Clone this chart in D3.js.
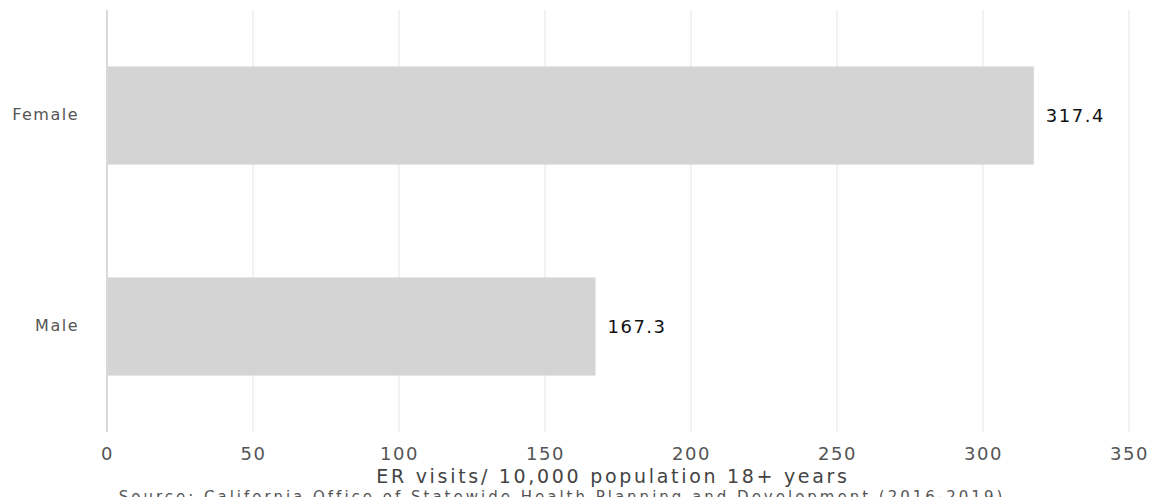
<!DOCTYPE html>
<html><head><meta charset="utf-8">
<script src="https://cdn.jsdelivr.net/npm/d3@7"></script>
<style>body{margin:0;background:#fff;overflow:hidden}svg{display:block}text{font-family:"DejaVu Sans",sans-serif}</style>
</head><body><svg id="c" width="1155" height="497"></svg>
<script>
const categories = ["Female", "Male"];
const values = [317.4, 167.3];
const tickValues = [0, 50, 100, 150, 200, 250, 300, 350];
const axisTitle = "ER visits/ 10,000 population 18+ years";
const sourceText = "Source: California Office of Statewide Health Planning and Development (2016-2019)";

const svg = d3.select("#c");
const x = d3.scaleLinear().domain([0, 350]).range([107, 1129]);
const y = d3.scaleBand().domain(categories).range([10, 432]).paddingInner(0.535).paddingOuter(0.2675);

// grid
svg.append("g").selectAll("line").data(tickValues.slice(1)).join("line")
  .attr("x1", d => x(d)).attr("x2", d => x(d)).attr("y1", 10).attr("y2", 432)
  .attr("stroke", "#eeeeee").attr("stroke-width", 1.5);
// axis line
svg.append("line").attr("x1", x(0)).attr("x2", x(0)).attr("y1", 10).attr("y2", 432)
  .attr("stroke", "#cccccc").attr("stroke-width", 1.5);

// bars
svg.append("g").selectAll("rect").data(categories).join("rect")
  .attr("x", x(0) + 1).attr("y", d => y(d))
  .attr("width", (d, i) => x(values[i]) - x(0) - 1).attr("height", y.bandwidth())
  .attr("fill", "#d4d4d4");

// value labels
svg.append("g").selectAll("text").data(categories).join("text")
  .attr("x", (d, i) => x(values[i]) + 12).attr("y", d => y(d) + y.bandwidth() / 2 + 6)
  .attr("font-size", 18).attr("letter-spacing", 1.5).attr("fill", "#111")
  .text((d, i) => values[i].toFixed(1));

// category labels
svg.append("g").selectAll("text").data(categories).join("text")
  .attr("x", 79).attr("y", d => y(d) + y.bandwidth() / 2 + 4)
  .attr("text-anchor", "end").attr("font-size", 16).attr("letter-spacing", 1.5).attr("fill", "#555")
  .text(d => d);

// x axis ticks
const ax = svg.append("g").attr("transform", "translate(0,439)")
  .call(d3.axisBottom(x).tickValues(tickValues).tickSize(0).tickPadding(8));
ax.select(".domain").remove();
ax.selectAll("text").attr("font-size", 18).attr("letter-spacing", 1.5).attr("fill", "#555")
  .style("font-family", "DejaVu Sans");

svg.append("text").attr("x", 613).attr("y", 483).attr("text-anchor", "middle")
  .attr("font-size", 19).attr("letter-spacing", 2.7).attr("fill", "#444").text(axisTitle);
svg.append("text").attr("x", 562).attr("y", 502).attr("text-anchor", "middle")
  .attr("font-size", 15).attr("letter-spacing", 3).attr("fill", "#555").text(sourceText);
</script></body></html>
